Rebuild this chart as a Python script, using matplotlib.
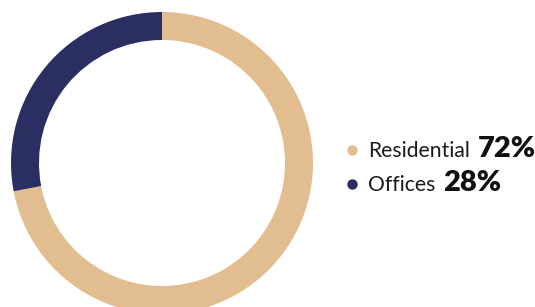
import matplotlib
matplotlib.use("Agg")
import matplotlib.pyplot as plt

categories = ["Residential", "Offices"]
values = [72, 28]
labels = ["72%", "28%"]
colors = ["#E1BD8F", "#2B2E61"]

W, H = 535, 307
fig = plt.figure(figsize=(W / 100, H / 100), dpi=100)
fig.patch.set_facecolor("white")

cx, cy, r = 162, 163, 151
ax = fig.add_axes([(cx - r) / W, (H - cy - r) / H, 2 * r / W, 2 * r / H])
ax.pie(values, colors=colors, startangle=90, counterclock=False, radius=1,
       wedgeprops=dict(width=28 / r, edgecolor="none"))
ax.set_xlim(-1, 1)
ax.set_ylim(-1, 1)
ax.set_aspect("equal")
ax.axis("off")

renderer = fig.canvas.get_renderer()
rows_y = [157, 191]  # baseline pixel from top
for i, (cat, lab, col) in enumerate(zip(categories, labels, colors)):
    yb = 1 - rows_y[i] / H
    fig.lines.append(plt.Line2D([352 / W], [1 - (rows_y[i] - 7) / H], marker="o",
                                markersize=7.5, color=col, transform=fig.transFigure,
                                markeredgewidth=0))
    t = fig.text(368 / W, yb, cat, fontsize=15.2, family="Lato", color="#1a1a1a",
                 va="baseline", ha="left")
    bb = t.get_window_extent(renderer)
    fig.text((bb.x1 + 8) / W, yb, lab, fontsize=21, family="Lato",
             fontweight="heavy", color="#111111", va="baseline", ha="left")

fig.savefig("out.png", dpi=100, facecolor="white")
